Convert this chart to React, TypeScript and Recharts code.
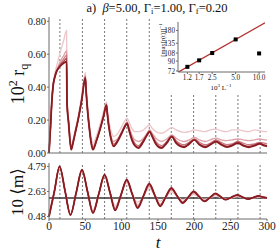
import React from "react";
import {
  LineChart,
  Line,
  XAxis,
  YAxis,
  ReferenceLine,
  ComposedChart,
  Scatter,
} from "recharts";

// top panel: 10^2 r_q vs t, one series per system size
const T_R = [0, 2, 4, 6, 8, 10, 13, 16, 20, 24.2, 24.8, 27, 30.5, 33, 36, 40, 45, 50, 51, 53, 56, 58, 60.5, 65, 70, 75, 79, 80, 82, 85, 89, 93, 100, 105, 107.5, 110, 114, 118, 123, 130, 135, 138.5, 142, 147, 155, 162, 169, 175, 186, 193, 200, 207, 215, 222, 230, 237, 245, 252, 260, 267, 275, 283, 290, 296, 300];
const RQ_100 = [0, 0.15, 0.33, 0.43, 0.48, 0.52, 0.57, 0.62, 0.68, 0.745, 0.35, 0.21, 0.05, 0.08, 0.14, 0.22, 0.35, 0.49, 0.41, 0.3, 0.17, 0.1, 0.06, 0.1, 0.17, 0.25, 0.31, 0.28, 0.21, 0.14, 0.1, 0.11, 0.16, 0.2, 0.21, 0.19, 0.15, 0.13, 0.13, 0.14, 0.16, 0.17, 0.15, 0.13, 0.12, 0.135, 0.155, 0.14, 0.125, 0.13, 0.14, 0.135, 0.13, 0.14, 0.145, 0.135, 0.13, 0.14, 0.14, 0.135, 0.13, 0.14, 0.135, 0.13, 0.13];
const RQ_200 = [0, 0.15, 0.32, 0.42, 0.47, 0.5, 0.53, 0.56, 0.59, 0.62, 0.32, 0.19, 0.03, 0.07, 0.13, 0.21, 0.33, 0.47, 0.39, 0.27, 0.14, 0.08, 0.04, 0.08, 0.15, 0.23, 0.3, 0.26, 0.18, 0.11, 0.07, 0.08, 0.13, 0.175, 0.19, 0.16, 0.11, 0.08, 0.07, 0.09, 0.12, 0.14, 0.12, 0.09, 0.07, 0.085, 0.11, 0.09, 0.07, 0.08, 0.095, 0.08, 0.07, 0.08, 0.09, 0.08, 0.075, 0.08, 0.085, 0.08, 0.075, 0.08, 0.085, 0.08, 0.08];
const RQ_400 = [0, 0.15, 0.32, 0.42, 0.465, 0.495, 0.52, 0.545, 0.57, 0.595, 0.31, 0.185, 0.025, 0.065, 0.125, 0.205, 0.325, 0.465, 0.385, 0.265, 0.135, 0.07, 0.03, 0.075, 0.145, 0.225, 0.295, 0.255, 0.175, 0.1, 0.055, 0.07, 0.125, 0.17, 0.185, 0.15, 0.095, 0.06, 0.045, 0.08, 0.115, 0.135, 0.11, 0.07, 0.045, 0.07, 0.105, 0.075, 0.05, 0.065, 0.085, 0.065, 0.05, 0.06, 0.08, 0.065, 0.05, 0.055, 0.07, 0.06, 0.05, 0.055, 0.065, 0.06, 0.055];
const RQ_600 = [0, 0.15, 0.32, 0.42, 0.46, 0.49, 0.515, 0.535, 0.555, 0.575, 0.3, 0.18, 0.02, 0.06, 0.12, 0.2, 0.32, 0.46, 0.38, 0.26, 0.13, 0.065, 0.025, 0.07, 0.14, 0.22, 0.29, 0.25, 0.17, 0.095, 0.045, 0.065, 0.12, 0.165, 0.18, 0.145, 0.085, 0.05, 0.035, 0.075, 0.11, 0.13, 0.105, 0.06, 0.035, 0.065, 0.1, 0.065, 0.04, 0.06, 0.08, 0.055, 0.04, 0.055, 0.07, 0.055, 0.04, 0.05, 0.065, 0.05, 0.04, 0.05, 0.06, 0.05, 0.045];
const RQ_800 = [0, 0.15, 0.32, 0.42, 0.46, 0.49, 0.515, 0.53, 0.545, 0.555, 0.3, 0.18, 0.02, 0.06, 0.12, 0.2, 0.32, 0.455, 0.38, 0.26, 0.13, 0.06, 0.02, 0.07, 0.14, 0.22, 0.29, 0.25, 0.17, 0.09, 0.04, 0.06, 0.12, 0.165, 0.18, 0.14, 0.08, 0.045, 0.03, 0.07, 0.11, 0.13, 0.1, 0.055, 0.03, 0.06, 0.1, 0.06, 0.035, 0.055, 0.08, 0.05, 0.035, 0.05, 0.07, 0.05, 0.036, 0.045, 0.06, 0.045, 0.035, 0.045, 0.055, 0.045, 0.04];

// bottom panel: 10 <m> vs t
const T_M = [0, 7.3, 14.6, 22, 29.5, 37.5, 45.4, 53, 60.5, 68.5, 76.5, 84, 91, 99, 107, 114.5, 122, 130, 138, 145.5, 153, 160.5, 168.3, 176, 184, 191.5, 199, 206.5, 214, 221.5, 229, 236, 243, 251, 259, 266, 274, 281, 288.5, 294, 300];
const M_100 = [0.48, 2.6, 4.75, 2.72, 0.7, 2.55, 4.4, 2.65, 1.05, 2.42, 3.9, 2.5, 1.4, 2.3, 3.4, 2.35, 1.7, 2.2, 2.95, 2.25, 1.8, 2.1, 2.6, 2.2, 1.9, 2.1, 2.35, 2.15, 1.95, 2.08, 2.25, 2.12, 2.0, 2.08, 2.18, 2.1, 2.02, 2.07, 2.14, 2.1, 2.06];
const M_200 = [0.48, 2.6, 4.77, 2.71, 0.65, 2.55, 4.45, 2.64, 0.9, 2.42, 3.98, 2.52, 1.2, 2.31, 3.52, 2.4, 1.45, 2.23, 3.12, 2.3, 1.55, 2.12, 2.77, 2.25, 1.75, 2.12, 2.5, 2.18, 1.85, 2.1, 2.36, 2.16, 1.95, 2.12, 2.26, 2.13, 2.0, 2.1, 2.2, 2.13, 2.07];
const M_400 = [0.48, 2.6, 4.78, 2.7, 0.62, 2.55, 4.48, 2.63, 0.83, 2.42, 4.03, 2.52, 1.1, 2.32, 3.58, 2.41, 1.32, 2.24, 3.22, 2.31, 1.45, 2.13, 2.86, 2.27, 1.68, 2.13, 2.58, 2.19, 1.8, 2.1, 2.42, 2.18, 1.93, 2.13, 2.3, 2.14, 1.98, 2.11, 2.22, 2.14, 2.08];
const M_600 = [0.48, 2.6, 4.79, 2.7, 0.6, 2.55, 4.5, 2.63, 0.79, 2.42, 4.05, 2.53, 1.04, 2.32, 3.62, 2.42, 1.25, 2.25, 3.27, 2.32, 1.4, 2.14, 2.9, 2.28, 1.65, 2.13, 2.61, 2.2, 1.78, 2.11, 2.44, 2.19, 1.92, 2.13, 2.32, 2.15, 1.97, 2.11, 2.24, 2.15, 2.08];
const M_800 = [0.48, 2.6, 4.79, 2.7, 0.6, 2.55, 4.5, 2.63, 0.77, 2.42, 4.07, 2.53, 1.0, 2.32, 3.64, 2.42, 1.2, 2.25, 3.3, 2.32, 1.35, 2.14, 2.93, 2.28, 1.63, 2.13, 2.63, 2.2, 1.77, 2.11, 2.46, 2.19, 1.92, 2.13, 2.34, 2.15, 1.97, 2.11, 2.25, 2.15, 2.08];
const M_EQ = 2.07;

const PEAK_TIMES = [15, 46, 76.5, 107, 138, 168.3, 199, 229.5, 260, 290.5];
const X_TICKS = [0, 50, 100, 150, 200, 250, 300];
const RQ_TICKS = [0, 0.2, 0.4, 0.6, 0.8];
const M_TICKS = [0.48, 2.63, 4.79];

// inset: inverse max of r vs 10^3/L
const INV_L = [1.2, 1.7, 2.5, 5.0, 10.0];
const INV_MAX_R = [79, 91.5, 108, 147, 107];
const FIT_X = [0.91, 11.9];
const FIT_Y = [69.8, 214];
const INSET_Y_TICKS = [72, 90, 108, 135, 180];

const COLORS = ["#ecc6c9", "#dda2a7", "#c97880", "#a8464d", "#8a1b20"];
const KEYS = ["l100", "l200", "l400", "l600", "l800"];

const rqRows = T_R.map((t, i) => ({
  t,
  l100: RQ_100[i],
  l200: RQ_200[i],
  l400: RQ_400[i],
  l600: RQ_600[i],
  l800: RQ_800[i],
}));
const mRows = T_M.map((t, i) => ({
  t,
  l100: M_100[i],
  l200: M_200[i],
  l400: M_400[i],
  l600: M_600[i],
  l800: M_800[i],
}));
const pointRows = INV_L.map((x, i) => ({ x, y: INV_MAX_R[i] }));
const fitRows = FIT_X.map((x, i) => ({ x, y: FIT_Y[i] }));

const FONT = "'Liberation Serif', 'DejaVu Serif', serif";
const FRAME = "#6b6b6b";
const tickStyle = { fontSize: 10.5, fill: "#222", fontFamily: FONT };
const insetTick = { fontSize: 7.2, fill: "#222", fontFamily: FONT };

function series() {
  return KEYS.map((k, i) => (
    <Line
      key={k}
      dataKey={k}
      type="monotone"
      stroke={COLORS[i]}
      strokeWidth={i === 4 ? 1.8 : 1.3}
      dot={false}
      isAnimationActive={false}
    />
  ));
}

function dashes() {
  return PEAK_TIMES.map((t) => (
    <ReferenceLine key={t} x={t} stroke="#555" strokeDasharray="2 2" strokeWidth={0.8} />
  ));
}

const Square = (p: any) => <rect x={p.cx - 2} y={p.cy - 2} width={4} height={4} fill="#000" />;

export default function App() {
  return (
    <div style={{ position: "relative", width: 278, height: 251, background: "#fff", fontFamily: FONT }}>
      <style>{`body{margin:0}`}</style>

      <div style={{ position: "absolute", left: 0, top: 0 }}>
        <LineChart width={278} height={163} data={rqRows} margin={{ top: 17, right: 11, bottom: 0, left: 0 }}>
          <XAxis dataKey="t" type="number" domain={[0, 300]} ticks={X_TICKS} tick={false} height={10} stroke={FRAME} tickSize={2} />
          <XAxis xAxisId="top" orientation="top" dataKey="t" type="number" domain={[0, 300]} ticks={X_TICKS} tick={false} height={0} stroke={FRAME} tickSize={0} />
          <YAxis
            type="number"
            domain={[0, 0.826]}
            ticks={RQ_TICKS}
            interval={0}
            width={49}
            stroke={FRAME}
            tickSize={2}
            tickMargin={1}
            tick={tickStyle}
            tickFormatter={(v: number) => v.toFixed(2)}
          />
          <YAxis yAxisId="right" orientation="right" domain={[0, 0.826]} width={0} tick={false} tickSize={0} stroke={FRAME} />
          {dashes()}
          {series()}
        </LineChart>
      </div>

      <div style={{ position: "absolute", left: 0, top: 157 }}>
        <LineChart width={278} height={94} data={mRows} margin={{ top: 6, right: 11, bottom: 0, left: 0 }}>
          <XAxis
            dataKey="t"
            type="number"
            domain={[0, 300]}
            ticks={X_TICKS}
            interval={0}
            height={32}
            stroke={FRAME}
            tickSize={2}
            tickMargin={1}
            tick={{ ...tickStyle, fontSize: 11.5 }}
          />
          <XAxis xAxisId="top" orientation="top" dataKey="t" type="number" domain={[0, 300]} tick={false} height={0} tickSize={0} stroke={FRAME} />
          <YAxis
            type="number"
            domain={[0.26, 5.08]}
            ticks={M_TICKS}
            interval={0}
            width={49}
            stroke={FRAME}
            tickSize={2}
            tickMargin={1}
            tick={tickStyle}
            tickFormatter={(v: number) => v.toFixed(2)}
          />
          <YAxis yAxisId="right" orientation="right" domain={[0.26, 5.08]} width={0} tick={false} tickSize={0} stroke={FRAME} />
          {dashes()}
          <ReferenceLine y={M_EQ} stroke="#333" strokeWidth={1.4} />
          {series()}
        </LineChart>
      </div>

      <div style={{ position: "absolute", left: 155, top: 18, width: 112, height: 76, background: "#fff" }}>
        <ComposedChart width={112} height={76} margin={{ top: 4, right: 2, bottom: 0, left: 0 }}>
          <XAxis
            dataKey="x"
            type="number"
            scale="log"
            domain={[0.91, 11.9]}
            ticks={INV_L}
            interval={0}
            allowDataOverflow
            height={22}
            stroke={FRAME}
            tickSize={2}
            tickMargin={1}
            tick={insetTick}
            tickFormatter={(v: number) => v.toFixed(1)}
          />
          <XAxis xAxisId="top" orientation="top" dataKey="x" type="number" scale="log" domain={[0.91, 11.9]} allowDataOverflow tick={false} height={0} tickSize={0} stroke={FRAME} />
          <YAxis
            dataKey="y"
            type="number"
            scale="log"
            domain={[70.3, 218]}
            ticks={INSET_Y_TICKS}
            interval={0}
            allowDataOverflow
            width={23}
            stroke={FRAME}
            tickSize={2}
            tickMargin={1}
            tick={insetTick}
          />
          <YAxis yAxisId="right" orientation="right" dataKey="y" type="number" scale="log" domain={[70.3, 218]} allowDataOverflow width={0} tick={false} tickSize={0} stroke={FRAME} />
          <Line data={fitRows} dataKey="y" type="linear" stroke="#b3302e" strokeWidth={1.2} dot={false} isAnimationActive={false} />
          <Scatter data={pointRows} dataKey="y" shape={Square} isAnimationActive={false} />
        </ComposedChart>
      </div>

      <svg width={278} height={251} style={{ position: "absolute", left: 0, top: 0, pointerEvents: "none" }} fontFamily={FONT}>
        <text x={157} y={12} textAnchor="middle" fontSize={12.5} fill="#111">
          <tspan>a){"\u00a0\u00a0"}</tspan>
          <tspan fontStyle="italic">β</tspan>
          <tspan>=5.00, Γ</tspan>
          <tspan fontSize={8.5} dy={2}>i</tspan>
          <tspan dy={-2}>=1.00, Γ</tspan>
          <tspan fontSize={8.5} dy={2}>f</tspan>
          <tspan dy={-2}>=0.20</tspan>
        </text>
        <text transform="translate(24,84) rotate(-90)" textAnchor="middle" fontSize={18} fill="#111">
          <tspan>10</tspan>
          <tspan fontSize={12} dy={-7}>2</tspan>
          <tspan dy={7}>{"\u00a0r"}</tspan>
          <tspan fontSize={12} dy={4}>q</tspan>
        </text>
        <text transform="translate(23,192) rotate(-90)" textAnchor="middle" fontSize={17} fill="#111">
          10 ⟨m⟩
        </text>
        <text x={158} y={248} textAnchor="middle" fontSize={17} fontStyle="italic" fill="#111">
          t
        </text>
        <text transform="translate(165,40) rotate(-90)" textAnchor="middle" fontSize={6.5} fill="#111">
          <tspan>[max[r(t)]]</tspan>
          <tspan fontSize={5} dy={-3}>−1</tspan>
        </text>
        <text x={221} y={90} textAnchor="middle" fontSize={7} fill="#111">
          <tspan>10</tspan>
          <tspan fontSize={5} dy={-3}>3</tspan>
          <tspan dy={3}>{"\u00a0L"}</tspan>
          <tspan fontSize={5} dy={-3}>−1</tspan>
        </text>
      </svg>
    </div>
  );
}
